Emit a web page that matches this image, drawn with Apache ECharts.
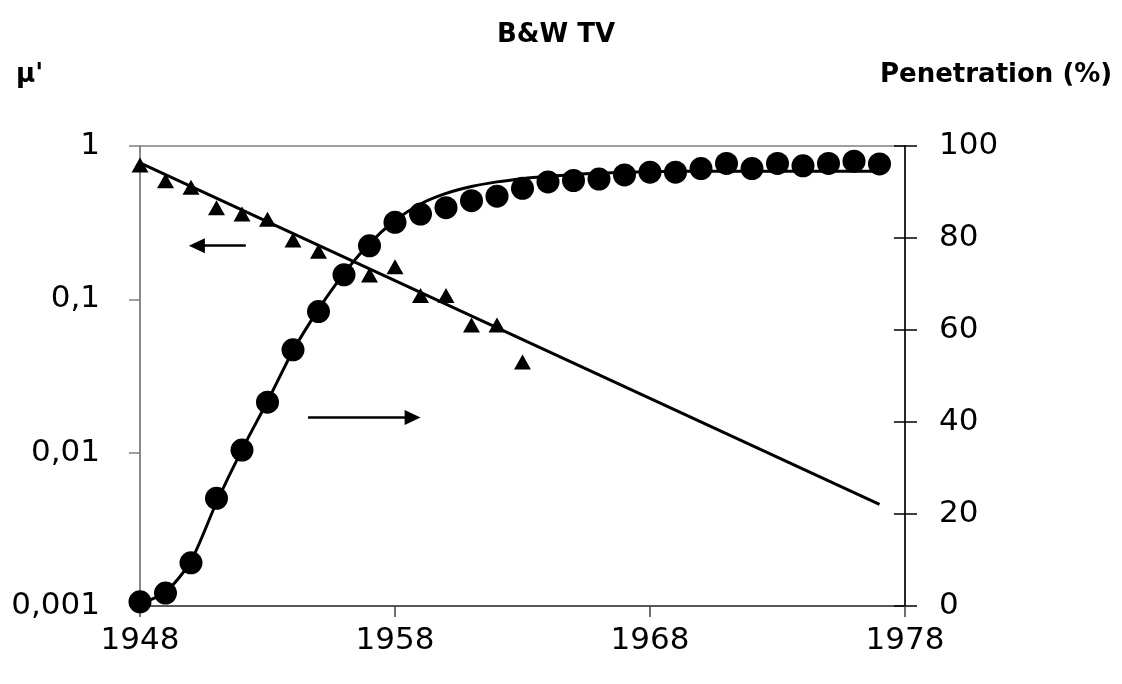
<!DOCTYPE html>
<html>
<head>
<meta charset="utf-8">
<script src="https://cdn.jsdelivr.net/npm/echarts@6/dist/echarts.min.js"></script>
<style>
html,body{margin:0;padding:0;background:#fff;}
#chart{width:1122px;height:684px;}
</style>
</head>
<body>
<div id="chart"></div>
<script>
// ---- data ----
const years = [1948,1949,1950,1951,1952,1953,1954,1955,1956,1957,1958,1959,1960,1961,1962,1963,1964,1965,1966,1967,1968,1969,1970,1971,1972,1973,1974,1975,1976,1977];
const penetration = [0.9,2.8,9.4,23.4,33.9,44.3,55.7,64.0,72.0,78.3,83.4,85.2,86.6,88.1,89.1,90.8,92.2,92.5,92.8,93.7,94.3,94.3,95.1,96.2,95.1,96.2,95.7,96.2,96.7,96.1];
const penetrationFit = [0.5,3.0,9.8,22.5,34.0,44.5,55.5,64.5,72.3,78.8,83.8,87.4,89.7,91.2,92.2,92.9,93.4,93.8,94.1,94.3,94.4,94.5,94.5,94.5,94.5,94.5,94.5,94.5,94.5,94.5];
const muYears = [1948,1949,1950,1951,1952,1953,1954,1955,1956,1957,1958,1959,1960,1961,1962,1963];
const mu = [0.752,0.594,0.538,0.396,0.360,0.333,0.244,0.206,0.150,0.144,0.163,0.106,0.106,0.068,0.068,0.039];
const muFitYears = [1948,1977];
const muFit = [0.775,0.0046];
const xTicks = [1948,1958,1968,1978];
const leftTicks = [0.001,0.01,0.1,1];
const leftTickLabels = ['0,001','0,01','0,1','1'];
// annotation arrows (data coordinates)
const arrowMu = {from:[1952.15,0.224], to:[1950.23,0.224]};
const arrowPen = {from:[1954.59,41.0], to:[1958.69,41.0]};

const FONT = '"DejaVu Sans", sans-serif';
const chart = echarts.init(document.getElementById('chart'));
const zip = (a,b)=>a.map((v,i)=>[v,b[i]]);

chart.setOption({
  animation:false,
  backgroundColor:'#fff',
  title:[
    {text:'B&W TV', left:551, top:17, textAlign:'center',
     textStyle:{fontFamily:FONT,fontWeight:'bold',fontSize:26,color:'#000'}},
    {text:"\u03bc'", left:11, top:57,
     textStyle:{fontFamily:FONT,fontWeight:'bold',fontSize:26,color:'#000'}},
    {text:'Penetration (%)', left:875, top:57,
     textStyle:{fontFamily:FONT,fontWeight:'bold',fontSize:26,color:'#000'}}
  ],
  grid:{left:140,right:217,top:146,bottom:78,show:true,borderColor:'#808080',borderWidth:1.5,backgroundColor:'transparent'},
  xAxis:{
    type:'value', min:1948, max:1978,
    axisLine:{show:true,onZero:false,lineStyle:{color:'#404040',width:1.5}},
    axisTick:{show:true,customValues:xTicks,length:11,lineStyle:{color:'#404040',width:1.5}},
    axisLabel:{customValues:xTicks,fontFamily:FONT,fontSize:31,color:'#000',margin:19,formatter:v=>String(v)},
    splitLine:{show:false}
  },
  yAxis:[
    {type:'log', logBase:10, min:0.001, max:1, position:'left',
     axisLine:{show:true,lineStyle:{color:'#808080',width:1.5}},
     axisTick:{show:true,length:11,lineStyle:{color:'#808080',width:1.5}},
     axisLabel:{fontFamily:FONT,fontSize:31,color:'#000',margin:40,
       formatter:v=>{const i=leftTicks.findIndex(t=>Math.abs(Math.log10(t)-Math.log10(v))<1e-6);return i>=0?leftTickLabels[i]:'';}},
     splitLine:{show:false}},
    {type:'value', min:0, max:100, interval:20, position:'right',
     axisLine:{show:true,lineStyle:{color:'#000',width:1.5}},
     axisTick:{show:true,length:12,lineStyle:{color:'#000',width:1.5}},
     axisLabel:{fontFamily:FONT,fontSize:31,color:'#000',margin:34},
     splitLine:{show:false}},
    {type:'value', min:0, max:100, interval:20, position:'right',
     axisLine:{show:false},
     axisTick:{show:true,inside:true,length:11,lineStyle:{color:'#000',width:1.5}},
     axisLabel:{show:false},
     splitLine:{show:false}}
  ],
  series:[
    {type:'line', yAxisIndex:0, data:zip(muFitYears,muFit), showSymbol:false, symbol:'none',
     lineStyle:{color:'#000',width:3}, z:3,
     markLine:{silent:true,symbol:['none','triangle'],symbolSize:[15,16],
       label:{show:false},lineStyle:{color:'#000',width:2.5,type:'solid'},
       data:[[{coord:arrowMu.from},{coord:arrowMu.to}]]}},
    {type:'scatter', yAxisIndex:0, data:zip(muYears,mu), symbol:'triangle', symbolSize:[17,15],
     itemStyle:{color:'#000',opacity:1}, z:4},
    {type:'line', yAxisIndex:1, data:zip(years,penetrationFit), showSymbol:false, symbol:'none', smooth:0.25,
     lineStyle:{color:'#000',width:3}, z:3,
     markLine:{silent:true,symbol:['none','triangle'],symbolSize:[15,16],
       label:{show:false},lineStyle:{color:'#000',width:2.5,type:'solid'},
       data:[[{coord:arrowPen.from},{coord:arrowPen.to}]]}},
    {type:'scatter', yAxisIndex:1, data:zip(years,penetration), symbol:'circle', symbolSize:23,
     itemStyle:{color:'#000',opacity:1}, z:5}
  ]
});
</script>
</body>
</html>
